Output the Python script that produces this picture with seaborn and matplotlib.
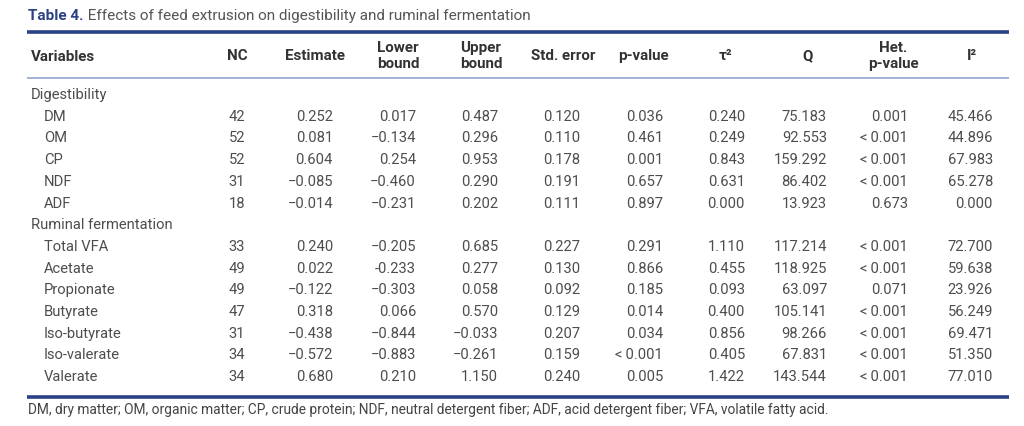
import matplotlib.pyplot as plt
import seaborn as sns

sns.set_theme(style="white")
plt.rcParams['font.family'] = ['Roboto', 'DejaVu Sans']

# table content
groups = ["Digestibility", "Ruminal fermentation"]
group_sizes = [5, 7]
variables = ["DM", "OM", "CP", "NDF", "ADF",
             "Total VFA", "Acetate", "Propionate", "Butyrate",
             "Iso-butyrate", "Iso-valerate", "Valerate"]
nc = ["42", "52", "52", "31", "18", "33", "49", "49", "47", "31", "34", "34"]
estimate = ["0.252", "0.081", "0.604", "−0.085", "−0.014", "0.240", "0.022",
            "−0.122", "0.318", "−0.438", "−0.572", "0.680"]
lower = ["0.017", "−0.134", "0.254", "−0.460", "−0.231", "−0.205", "-0.233",
         "−0.303", "0.066", "−0.844", "−0.883", "0.210"]
upper = ["0.487", "0.296", "0.953", "0.290", "0.202", "0.685", "0.277",
         "0.058", "0.570", "−0.033", "−0.261", "1.150"]
std_err = ["0.120", "0.110", "0.178", "0.191", "0.111", "0.227", "0.130",
           "0.092", "0.129", "0.207", "0.159", "0.240"]
p_value = ["0.036", "0.461", "0.001", "0.657", "0.897", "0.291", "0.866",
           "0.185", "0.014", "0.034", "<\u20090.001", "0.005"]
tau2 = ["0.240", "0.249", "0.843", "0.631", "0.000", "1.110", "0.455",
        "0.093", "0.400", "0.856", "0.405", "1.422"]
q_stat = ["75.183", "92.553", "159.292", "86.402", "13.923", "117.214",
          "118.925", "63.097", "105.141", "98.266", "67.831", "143.544"]
het_p = ["0.001", "<\u20090.001", "<\u20090.001", "<\u20090.001", "0.673",
         "<\u20090.001", "<\u20090.001", "0.071", "<\u20090.001", "<\u20090.001",
         "<\u20090.001", "<\u20090.001"]
i2 = ["45.466", "44.896", "67.983", "65.278", "0.000", "72.700", "59.638",
      "23.926", "56.249", "69.471", "51.350", "77.010"]

headers = ["NC", "Estimate", "Lower\nbound", "Upper\nbound", "Std. error",
           "p-value", "τ²", "Q", "Het.\np-value", "I²"]
columns = [nc, estimate, lower, upper, std_err, p_value, tau2, q_stat, het_p, i2]

title_bold = "Table 4."
title_rest = " Effects of feed extrusion on digestibility and ruminal fermentation"
footnote = ("DM, dry matter; OM, organic matter; CP, crude protein; NDF, neutral "
            "detergent fiber; ADF, acid detergent fiber; VFA, volatile fatty acid.")

# layout (pixel space)
head_x = [237, 315, 398, 481, 563, 643, 725, 808, 893, 972]
right_x = [245, 333, 416, 498, 580, 663, 745, 827, 908, 993]
row0, dy = 95, 21.7
navy = "#2b4185"
txt = "#4d4d4d"
fs = 10.6

fig = plt.figure(figsize=(10.24, 4.26), dpi=100)
ax = fig.add_axes([0, 0, 1, 1])
ax.set_xlim(0, 1024)
ax.set_ylim(426, 0)
ax.axis("off")

t1 = ax.text(28, 23, title_bold, fontsize=11, fontweight="bold", color=navy,
             va="bottom", ha="left")
ax.annotate(title_rest, xy=(1, 0), xycoords=t1, fontsize=11, color="#555555",
            va="bottom", ha="left")

ax.plot([27, 1009], [32, 32], color=navy, lw=2.6, solid_capstyle="butt")
ax.plot([27, 1009], [78, 78], color="#8d9dcc", lw=1.1, solid_capstyle="butt")

ax.text(31, 57, "Variables", fontsize=10.9, fontweight="bold", color="#333333",
        va="center", ha="left")
for h, x in zip(headers, head_x):
    ax.text(x, 56, h, fontsize=10.9, fontweight="bold", color="#333333",
            va="center", ha="center", linespacing=1.25)

row = 0
k = 0
for g, n in zip(groups, group_sizes):
    ax.text(31, row0 + row * dy, g, fontsize=fs, color=txt, va="center", ha="left")
    row += 1
    for _ in range(n):
        y = row0 + row * dy
        ax.text(44, y, variables[k], fontsize=fs, color=txt, va="center", ha="left")
        for col, x in zip(columns, right_x):
            ax.text(x, y, col[k], fontsize=fs, color=txt, va="center", ha="right")
        row += 1
        k += 1

ax.plot([27, 1009], [397, 397], color=navy, lw=2.6, solid_capstyle="butt")

ax.text(28, 410, footnote, fontsize=9.9, color="#444444", va="center", ha="left")

fig.savefig("out.png", dpi=100)
